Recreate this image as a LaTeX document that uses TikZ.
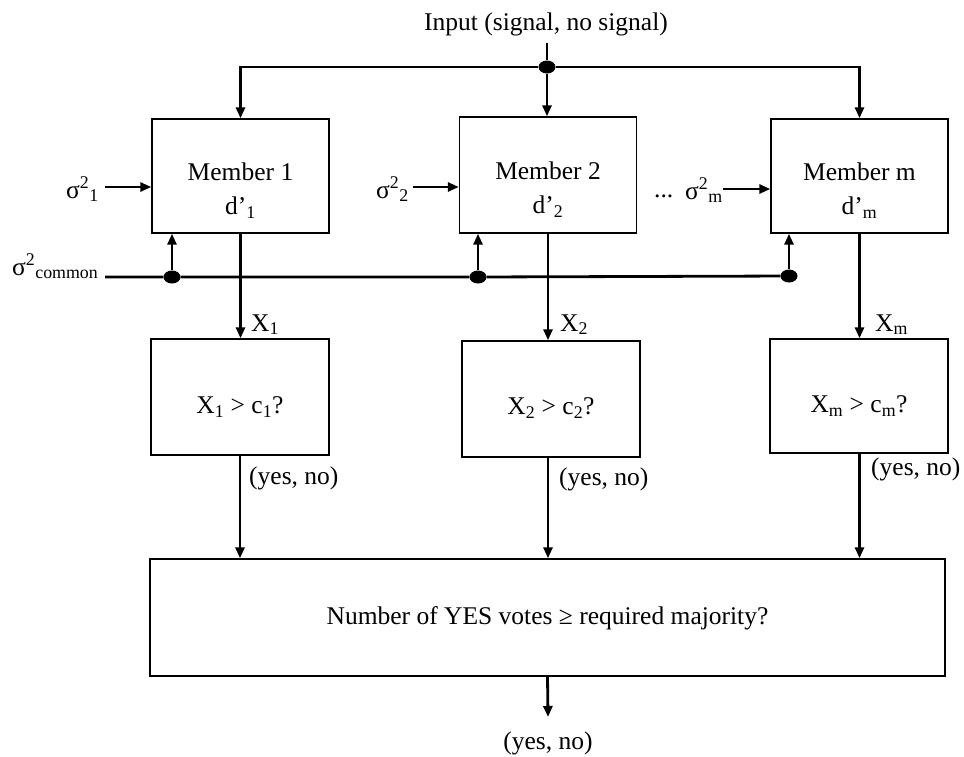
\documentclass[tikz,border=0pt]{standalone}
\usepackage{fontspec}
\setmainfont{Liberation Serif}
\usetikzlibrary{arrows.meta,shapes.geometric,calc}
\begin{document}
\begin{tikzpicture}[x=1pt,y=-1pt,
  box/.style={draw, line width=1.4pt, inner sep=0pt},
  mbox/.style={box, minimum width=177pt, minimum height=114pt},
  cbox/.style={box, minimum width=178pt, minimum height=116pt},
  conn/.style={line width=2.8pt},
  arr/.style={conn, -{Triangle[length=11pt,width=9pt]}},
  dotn/.style={ellipse, fill, inner sep=0pt, minimum width=17pt, minimum height=13pt},
  txt/.style={font=\fontsize{25.5}{34}\selectfont, inner sep=0pt, align=center}]
\useasboundingbox (0,0) rectangle (964,756);

% input
\node[txt, outer sep=7pt] (inp) at (546,24) {Input (signal, no signal)};
\node[dotn] (td) at (547,67) {};

% member boxes
\node[mbox] (m1) at (240.5,176) {};
\node[mbox, minimum height=116pt] (m2) at (548,175) {};
\node[mbox] (mm) at (859.5,176) {};
\node[txt] (m1t) at (240.5,191) {Member 1\\d’\textsubscript{1}};
\node[txt] (m2t) at (548,190) {Member 2\\d’\textsubscript{2}};
\node[txt] (mmt) at (859.5,191) {Member m\\d’\textsubscript{m}};

% comparison boxes
\node[cbox] (c1) at (240,397) {};
\node[cbox] (c2) at (551,399) {};
\node[cbox, minimum height=114pt] (cm) at (859,396) {};
\node[txt] (c1t) at (240,407) {X\textsubscript{1} > c\textsubscript{1}?};
\node[txt] (c2t) at (551,408) {X\textsubscript{2} > c\textsubscript{2}?};
\node[txt] (cmt) at (859,406) {X\textsubscript{m} > c\textsubscript{m}?};

% majority box
\node[box, minimum width=795pt, minimum height=117pt] (big) at (547.5,617.5) {};
\node[txt] (bigt) at (547.5,618) {Number of YES votes ≥ required majority?};

% variance labels
\node[txt, anchor=base west] (s1) at (66,198) {σ\textsuperscript{2}\textsubscript{1}};
\node[txt, anchor=base west] (s2) at (376,198) {σ\textsuperscript{2}\textsubscript{2}};
\node[txt, anchor=base west] (dots) at (654,197) {...};
\node[txt, anchor=base west] (sm) at (685,199) {σ\textsuperscript{2}\textsubscript{m}};
\node[txt, anchor=base west] (sc) at (12,275) {σ\textsuperscript{2}\textsubscript{common}};

\coordinate (a1) at (105,187);
\coordinate (a2) at (413,187);
\coordinate (am) at (723,189);
\coordinate (cs) at (105,277);
\node[dotn] (d1) at (172,277) {};
\node[dotn] (d2) at (478,277) {};
\node[dotn] (dm) at (789,276) {};

% X labels
\node[txt, anchor=base west] (x1) at (251,331) {X\textsubscript{1}};
\node[txt, anchor=base west] (x2) at (560,331) {X\textsubscript{2}};
\node[txt, anchor=base west] (xm) at (875,331) {X\textsubscript{m}};

% yes/no labels
\node[txt, anchor=base west] (y1) at (249,484) {(yes, no)};
\node[txt, anchor=base west] (y2) at (559,485) {(yes, no)};
\node[txt, anchor=base west] (ym) at (871,475) {(yes, no)};
\node[txt, anchor=base] (yb) at (548,749) {(yes, no)};
\coordinate (bo) at (548,717);

% connectors
\draw[conn] (td |- inp.south) -- (td);
\draw[arr] (td) -| (m1.north);
\draw[arr] (td) -- (td |- m2.north);
\draw[arr] (td) -| (mm.north);

\draw[arr] (a1) -- (a1 -| m1.west);
\draw[arr] (a2) -- (a2 -| m2.west);
\draw[arr] (am) -- (am -| mm.west);

\draw[conn] (cs) -- (d1) -- (d2) -- (dm);
\draw[arr] (d1) -- (d1 |- m1.south);
\draw[arr] (d2) -- (d2 |- m2.south);
\draw[arr] (dm) -- (dm |- mm.south);

\draw[arr] (m1.south) -- (m1.south |- c1.north);
\draw[arr] (m2.south) -- (m2.south |- c2.north);
\draw[arr] (mm.south) -- (mm.south |- cm.north);

\draw[arr] (c1.south) -- (c1.south |- big.north);
\draw[arr] (m2.south |- c2.south) -- (m2.south |- big.north);
\draw[arr] (mm.south |- cm.south) -- (mm.south |- big.north);

\draw[arr] (big.south) -- (bo);
\end{tikzpicture}
\end{document}
